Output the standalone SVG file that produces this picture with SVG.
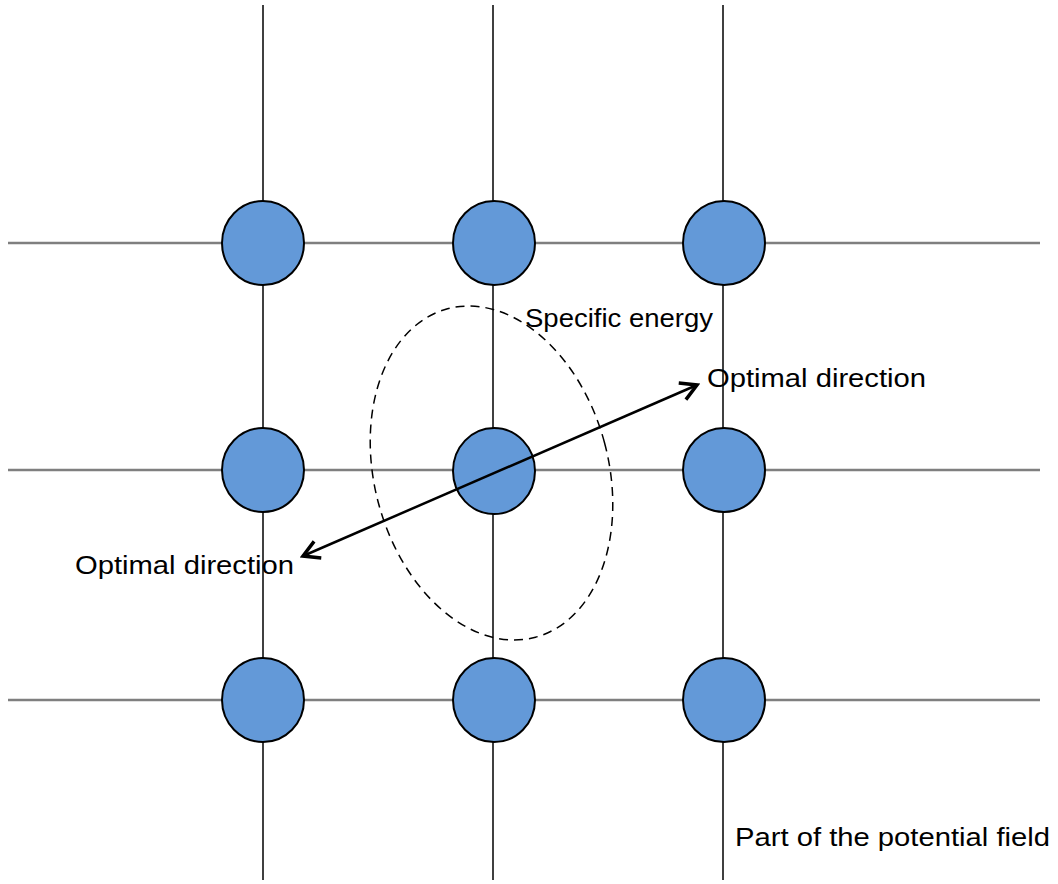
<svg xmlns="http://www.w3.org/2000/svg" width="1058" height="884" viewBox="0 0 1058 884">
<defs>
<style>
.h{stroke:#7f7f7f;stroke-width:2.5;fill:none}
.v{stroke:#000;stroke-width:1.5;fill:none}
.n{fill:#6399d8;stroke:#000;stroke-width:2}
.t{font-family:"Liberation Sans",Arial,sans-serif;font-size:25px;fill:#000}
.arr{stroke:#000;stroke-width:2.5;fill:none}
</style>
<marker id="ah" viewBox="0 0 24 24" refX="21" refY="12" markerWidth="24" markerHeight="24" markerUnits="userSpaceOnUse" orient="auto-start-reverse">
<path d="M5,3 L21,12 L5,21" fill="none" stroke="#000" stroke-width="3.5" stroke-linejoin="miter"/>
</marker>
</defs>
<rect width="1058" height="884" fill="#fff"/>
<g id="connectors">
<line class="h" x1="8" y1="243" x2="1040" y2="243"/>
<line class="h" x1="8" y1="470" x2="1040" y2="470"/>
<line class="h" x1="8" y1="700" x2="1040" y2="700"/>
<line class="v" x1="263" y1="5" x2="263" y2="880"/>
<line class="v" x1="493" y1="5" x2="493" y2="880"/>
<line class="v" x1="723" y1="5" x2="723" y2="880"/>
</g>
<g id="n11"><ellipse class="n" cx="263" cy="243" rx="41" ry="42"/></g>
<g id="n12"><ellipse class="n" cx="494" cy="243" rx="41" ry="42"/></g>
<g id="n13"><ellipse class="n" cx="724" cy="243" rx="41" ry="42"/></g>
<g id="n21"><ellipse class="n" cx="263" cy="470" rx="41" ry="42"/></g>
<g id="n22"><ellipse class="n" cx="494" cy="471" rx="41" ry="43"/></g>
<g id="n23"><ellipse class="n" cx="724" cy="470" rx="41" ry="42"/></g>
<g id="n31"><ellipse class="n" cx="263" cy="700" rx="41" ry="42"/></g>
<g id="n32"><ellipse class="n" cx="494" cy="700" rx="41" ry="42"/></g>
<g id="n33"><ellipse class="n" cx="724" cy="700" rx="41" ry="42"/></g>
<g id="energy">
<ellipse cx="491.5" cy="473" rx="117" ry="170" transform="rotate(-15 491.5 473)" fill="none" stroke="#000" stroke-width="1.5" stroke-dasharray="9,6"/>
</g>
<g id="arrow">
<line class="arr" x1="303" y1="556" x2="697" y2="385" marker-start="url(#ah)" marker-end="url(#ah)"/>
</g>
<g id="labels">
<text class="t" x="525" y="327" textLength="188" lengthAdjust="spacingAndGlyphs">Specific energy</text>
<text class="t" x="707" y="387" textLength="219" lengthAdjust="spacingAndGlyphs">Optimal direction</text>
<text class="t" x="75" y="574" textLength="219" lengthAdjust="spacingAndGlyphs">Optimal direction</text>
<text class="t" x="735" y="846" textLength="315" lengthAdjust="spacingAndGlyphs">Part of the potential field</text>
</g>
</svg>
